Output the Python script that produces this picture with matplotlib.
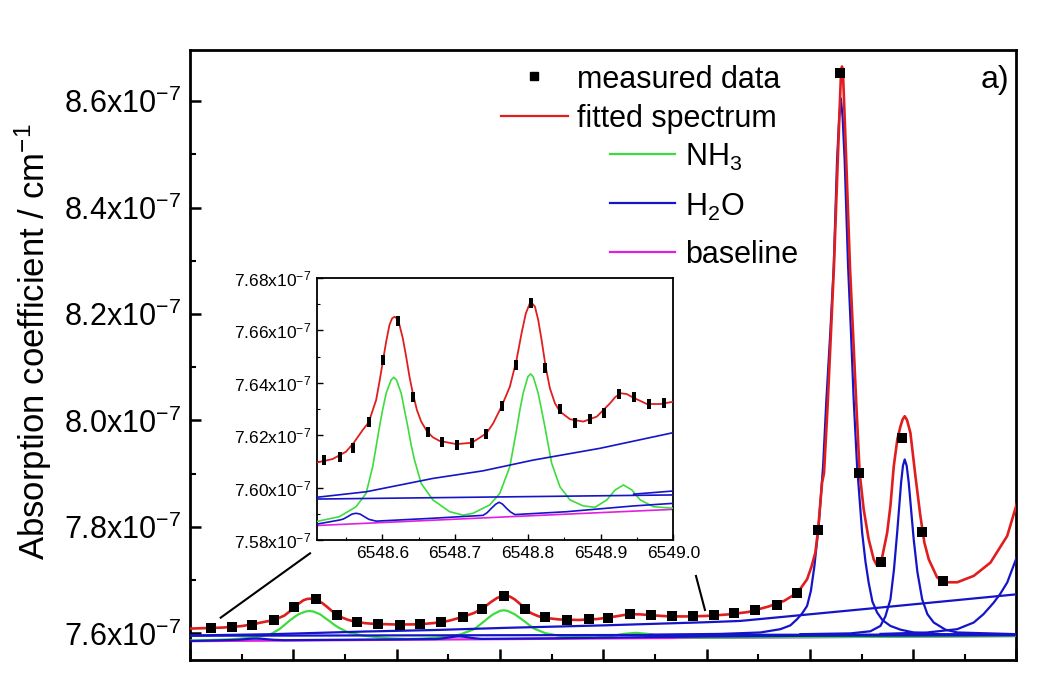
import matplotlib
matplotlib.use('Agg')
import matplotlib.pyplot as plt
from matplotlib.lines import Line2D
from matplotlib.ticker import MultipleLocator, FixedLocator, FuncFormatter

plt.rcParams['font.family'] = ['Liberation Sans', 'DejaVu Sans']
plt.rcParams['mathtext.fontset'] = 'custom'
plt.rcParams['mathtext.rm'] = 'Liberation Sans'
plt.rcParams['mathtext.it'] = 'Liberation Sans:italic'
plt.rcParams['mathtext.bf'] = 'Liberation Sans:bold'

# ---------------- data (absorption in units of 1e-7 cm^-1) ----------------
meas_x = [6548.520, 6548.541, 6548.560, 6548.581, 6548.601, 6548.622, 6548.642, 6548.662,
          6548.682, 6548.703, 6548.723, 6548.743, 6548.764, 6548.783, 6548.804, 6548.824,
          6548.844, 6548.865, 6548.886, 6548.905, 6548.926, 6548.946, 6548.967, 6548.987,
          6549.007, 6549.027, 6549.047, 6549.068, 6549.088, 6549.108, 6549.129, 6549.148,
          6549.169, 6549.189, 6549.209, 6549.229]
meas_y = [7.6105, 7.6118, 7.6150, 7.6249, 7.6487, 7.6637, 7.6345, 7.6213,
          7.6175, 7.6161, 7.6169, 7.6205, 7.6313, 7.6467, 7.6703, 7.6455,
          7.6300, 7.6248, 7.6261, 7.6286, 7.6356, 7.6347, 7.6318, 7.6322,
          7.6341, 7.6392, 7.6435, 7.6529, 7.6754, 7.7936, 8.6528, 7.9011,
          7.7341, 7.9662, 7.7911, 7.6985]

fit_x = [6548.500, 6548.5085, 6548.5315, 6548.5499, 6548.5605, 6548.5729, 6548.5811, 6548.5867,
         6548.5913, 6548.5959, 6548.6009, 6548.6051, 6548.6097, 6548.6133, 6548.6166, 6548.6198,
         6548.6234, 6548.6280, 6548.6326, 6548.6372, 6548.6418, 6548.6474, 6548.6533, 6548.6616,
         6548.6694, 6548.6786, 6548.7016, 6548.7228, 6548.7430, 6548.7522, 6548.7637, 6548.7752,
         6548.7844, 6548.7913, 6548.7972, 6548.8037, 6548.8097, 6548.8142, 6548.8189, 6548.8244,
         6548.8303, 6548.8372, 6548.8441, 6548.8579, 6548.8763, 6548.8948, 6548.9131, 6548.9200,
         6548.9279, 6548.9360, 6548.9453, 6548.9637, 6548.9821, 6549.0004, 6549.0200, 6549.0400,
         6549.0600, 6549.0750, 6549.0882, 6549.0973, 6549.1015, 6549.1053, 6549.1079, 6549.1118,
         6549.1137, 6549.1171, 6549.1203, 6549.1233, 6549.1270, 6549.1291, 6549.1300, 6549.1311,
         6549.1322, 6549.1331, 6549.1352, 6549.1388, 6549.1419, 6549.1451, 6549.1482, 6549.1521,
         6549.1569, 6549.1618, 6549.1651, 6549.1690, 6549.1748, 6549.1780, 6549.1812, 6549.1847,
         6549.1877, 6549.1898, 6549.1918, 6549.1940, 6549.1973, 6549.2022, 6549.2070, 6549.2109,
         6549.2151, 6549.2232, 6549.2312, 6549.2426, 6549.2586, 6549.2748, 6549.2910, 6549.3007]
fit_y = [7.6090, 7.6095, 7.6109, 7.6137, 7.6171, 7.6220, 7.6249, 7.6296,
         7.6334, 7.6404, 7.6487, 7.6557, 7.6621, 7.6646, 7.6652, 7.6646,
         7.6621, 7.6570, 7.6500, 7.6423, 7.6360, 7.6296, 7.6252, 7.6213,
         7.6192, 7.6178, 7.6166, 7.6171, 7.6207, 7.6245, 7.6309, 7.6385,
         7.6487, 7.6589, 7.6665, 7.6710, 7.6691, 7.6640, 7.6563, 7.6462,
         7.6379, 7.6322, 7.6290, 7.6261, 7.6252, 7.6271, 7.6322, 7.6345,
         7.6360, 7.6357, 7.6343, 7.6319, 7.6319, 7.6328, 7.6355, 7.6400,
         7.6505, 7.6610, 7.6767, 7.7017, 7.7250, 7.7517, 7.7940, 7.8831,
         7.9011, 8.0250, 8.1600, 8.2890, 8.4880, 8.6000, 8.6450, 8.6650,
         8.6450, 8.6000, 8.4880, 8.2890, 8.1600, 8.0250, 7.9011, 7.8330,
         7.7770, 7.7390, 7.7270, 7.7340, 7.7890, 7.8400, 7.9140, 7.9650,
         7.9890, 8.0020, 8.0080, 8.0010, 7.9770, 7.8950, 7.8200, 7.7700,
         7.7390, 7.7050, 7.6960, 7.6960, 7.7080, 7.7330, 7.7830, 7.8460]

nh3_x = [6548.500, 6548.5085, 6548.5407, 6548.5637, 6548.5775, 6548.5866, 6548.5913, 6548.5959,
         6548.6005, 6548.6051, 6548.6120, 6548.6156, 6548.6193, 6548.6258, 6548.6303, 6548.6349,
         6548.6395, 6548.6441, 6548.6533, 6548.6694, 6548.6924, 6548.7108, 6548.7246, 6548.7476,
         6548.7614, 6548.7752, 6548.7798, 6548.7844, 6548.7890, 6548.7935, 6548.8000, 6548.8037,
         6548.8074, 6548.8142, 6548.8189, 6548.8234, 6548.8280, 6548.8327, 6548.8441, 6548.8579,
         6548.8763, 6548.8924, 6548.9086, 6548.9200, 6548.9315, 6548.9430, 6548.9545, 6548.9728,
         6549.0004, 6549.1500, 6549.3000]
nh3_y = [7.5866, 7.5870, 7.5889, 7.5927, 7.5978, 7.6080, 7.6156, 7.6232,
         7.6300, 7.6360, 7.6411, 7.6421, 7.6411, 7.6360, 7.6296, 7.6232,
         7.6163, 7.6105, 7.6016, 7.5953, 7.5908, 7.5895, 7.5902, 7.5934,
         7.5978, 7.6080, 7.6150, 7.6220, 7.6296, 7.6360, 7.6423, 7.6434,
         7.6423, 7.6360, 7.6296, 7.6232, 7.6163, 7.6093, 7.6003, 7.5953,
         7.5930, 7.5925, 7.5953, 7.5991, 7.6010, 7.5991, 7.5953, 7.5927,
         7.5921, 7.5935, 7.5950]

h2o_low_x = [6548.500, 6548.5085, 6548.5407, 6548.5462, 6548.5521, 6548.5582, 6548.5637, 6548.5692,
             6548.5752, 6548.5811, 6548.5913, 6548.6694, 6548.7383, 6548.7439, 6548.7499, 6548.7559,
             6548.7605, 6548.7651, 6548.7706, 6548.7761, 6548.7821, 6548.8534, 6548.9453, 6549.0004,
             6549.1000, 6549.3000]
h2o_low_y = [7.5858, 7.5860, 7.5876, 7.5880, 7.5889, 7.5899, 7.5902, 7.5899,
             7.5889, 7.5879, 7.5872, 7.5883, 7.5894, 7.5904, 7.5921, 7.5937,
             7.5944, 7.5937, 7.5921, 7.5907, 7.5897, 7.5908, 7.5930, 7.5940,
             7.5955, 7.5965]

h2o_flat_x = [6548.50, 6549.00, 6549.30]
h2o_flat_y = [7.5956, 7.5972, 7.5980]

h2o_slope_x = [6548.500, 6548.5775, 6548.6694, 6548.7383, 6548.8073, 6548.8993, 6549.0004,
               6549.0327, 6549.1600, 6549.3007]
h2o_slope_y = [7.5960, 7.5984, 7.6035, 7.6064, 7.6105, 7.6150, 7.6210,
               7.6234, 7.6470, 7.6735]

h2o_p1_x = [6548.9455, 6549.0133, 6549.0521, 6549.0714, 6549.0811, 6549.0876, 6549.0927, 6549.0973,
            6549.1010, 6549.1044, 6549.1085, 6549.1128, 6549.1160, 6549.1199, 6549.1231, 6549.1263,
            6549.1284, 6549.1300, 6549.1317, 6549.1337, 6549.1370, 6549.1397, 6549.1424, 6549.1457,
            6549.1506, 6549.1538, 6549.1569, 6549.1605, 6549.1651, 6549.1702, 6549.1780, 6549.1877,
            6549.2005, 6549.2264, 6549.3007]
h2o_p1_y = [7.5975, 7.5990, 7.6017, 7.6079, 7.6150, 7.6266, 7.6380, 7.6516,
            7.6800, 7.7266, 7.8016, 7.9142, 8.0393, 8.1700, 8.2890, 8.4880,
            8.5700, 8.6050, 8.5700, 8.4880, 8.2890, 8.1700, 8.0393, 7.9142,
            7.7893, 7.7350, 7.6955, 7.6600, 7.6392, 7.6250, 7.6140, 7.6070,
            7.6017, 7.5985, 7.5978]

h2o_p2_x = [6549.0908, 6549.1392, 6549.1586, 6549.1683, 6549.1731, 6549.1780, 6549.1814, 6549.1845,
            6549.1883, 6549.1901, 6549.1918, 6549.1937, 6549.1957, 6549.2005, 6549.2041, 6549.2087,
            6549.2138, 6549.2199, 6549.2312, 6549.2426, 6549.3007]
h2o_p2_y = [7.5985, 7.6000, 7.6040, 7.6140, 7.6320, 7.6641, 7.7200, 7.7893,
            7.8831, 7.9150, 7.9268, 7.9150, 7.8831, 7.7767, 7.7150, 7.6641,
            7.6360, 7.6204, 7.6070, 7.6017, 7.5985]

h2o_edge_x = [6549.1683, 6549.2135, 6549.2426, 6549.2586, 6549.2680, 6549.2780, 6549.2845,
              6549.2910, 6549.3007]
h2o_edge_y = [7.5990, 7.6017, 7.6079, 7.6204, 7.6360, 7.6579, 7.6750,
              7.6955, 7.7454]

base_x = [6548.50, 6548.76, 6549.00, 6549.30]
base_y = [7.5854, 7.5887, 7.5917, 7.5950]

main_yticks = [7.6, 7.8, 8.0, 8.2, 8.4, 8.6]
inset_xticks = [6548.6, 6548.7, 6548.8, 6548.9, 6549.0]
inset_yticks = [7.58, 7.60, 7.62, 7.64, 7.66, 7.68]
legend_labels = ['measured data', 'fitted spectrum', 'NH$_3$', 'H$_2$O', 'baseline']
ylabel_text = 'Absorption coefficient / cm$^{-1}$'
panel_label = 'a)'

RED = '#e01e1e'
GREEN = '#3ddc3d'
BLUE = '#1414c8'
MAG = '#e020e0'

fig = plt.figure(figsize=(10.45, 6.81), dpi=100)
ax = fig.add_axes([0.18182, 0.03084, 0.7909, 0.8957])
axin = fig.add_axes([0.30335, 0.20705, 0.34096, 0.38473])

blue_sets = [(h2o_low_x, h2o_low_y), (h2o_flat_x, h2o_flat_y), (h2o_slope_x, h2o_slope_y),
             (h2o_p1_x, h2o_p1_y), (h2o_p2_x, h2o_p2_y), (h2o_edge_x, h2o_edge_y)]


def draw(a, lw, lw_red, marker, ms):
    a.plot(base_x, base_y, color=MAG, lw=lw, zorder=2, solid_joinstyle='round')
    a.plot(nh3_x, nh3_y, color=GREEN, lw=lw, zorder=3, solid_joinstyle='round')
    for bx, by in blue_sets:
        a.plot(bx, by, color=BLUE, lw=lw, zorder=4, solid_joinstyle='round')
    a.plot(fit_x, fit_y, color=RED, lw=lw_red, zorder=5, solid_joinstyle='round')
    a.plot(meas_x, meas_y, ls='none', marker=marker, ms=ms, color='black',
           markeredgewidth=0, zorder=6)


draw(ax, 1.6, 1.9, 's', 7.5)
rect_marker = [(-0.5, -1.0), (0.5, -1.0), (0.5, 1.0), (-0.5, 1.0), (-0.5, -1.0)]
draw(axin, 1.2, 1.3, rect_marker, 6.5)

# ---- main axes formatting ----
ax.set_xlim(6548.5, 6549.3)
ax.set_ylim(7.550, 8.696)
ax.xaxis.set_major_locator(MultipleLocator(0.1))
ax.xaxis.set_minor_locator(MultipleLocator(0.05))
ax.yaxis.set_major_locator(FixedLocator(main_yticks))
ax.yaxis.set_minor_locator(MultipleLocator(0.1))
ax.yaxis.set_major_formatter(FuncFormatter(lambda v, p: f'{v:.1f}x10$^{{-7}}$'))
ax.tick_params(which='both', direction='in', top=False, right=False, labelbottom=False)
ax.tick_params(which='major', length=8, width=1.8, labelsize=22, pad=6)
ax.tick_params(which='minor', length=4.5, width=1.5)
for s in ax.spines.values():
    s.set_linewidth(2.0)

# ---- inset formatting ----
axin.set_xlim(6548.51, 6549.0)
axin.set_ylim(7.58, 7.68)
axin.xaxis.set_major_locator(FixedLocator(inset_xticks))
axin.xaxis.set_minor_locator(MultipleLocator(0.05))
axin.yaxis.set_major_locator(FixedLocator(inset_yticks))
axin.yaxis.set_minor_locator(MultipleLocator(0.01))
axin.xaxis.set_major_formatter(FuncFormatter(lambda v, p: f'{v:.1f}'))
axin.yaxis.set_major_formatter(FuncFormatter(lambda v, p: f'{v:.2f}x10$^{{-7}}$'))
axin.tick_params(which='both', direction='in', top=False, right=False)
axin.tick_params(which='major', length=4, width=1.0, labelsize=12.5, pad=4)
axin.tick_params(which='minor', length=2.5, width=0.8)
for s in axin.spines.values():
    s.set_linewidth(1.3)

# ---- legend drawn manually ----
ax.plot([0.4157], [0.9572], ls='none', marker='s', ms=5.5, color='black',
        transform=ax.transAxes, clip_on=False)
ax.plot([0.3757, 0.4578], [0.8915, 0.8915], color=RED, lw=1.6, transform=ax.transAxes)
ax.plot([0.5084, 0.5864], [0.8298, 0.8298], color=GREEN, lw=1.6, transform=ax.transAxes)
ax.plot([0.5084, 0.5864], [0.7487, 0.7487], color=BLUE, lw=1.6, transform=ax.transAxes)
ax.plot([0.5084, 0.5864], [0.6687, 0.6687], color=MAG, lw=1.6, transform=ax.transAxes)
leg_pos = [(0.4682, 0.9384), (0.4682, 0.8731), (0.5989, 0.8098), (0.5989, 0.7287), (0.5989, 0.6505)]
for (tx, ty), lab in zip(leg_pos, legend_labels):
    ax.text(tx, ty, lab, transform=ax.transAxes, fontsize=22, ha='left', va='baseline')
ax.text(0.957, 0.9372, panel_label, transform=ax.transAxes, fontsize=23, ha='left', va='baseline')

# ---- y label ----
fig.text(33 / 1045, 1 - 342 / 681, ylabel_text, rotation=90, ha='center', va='center', fontsize=25)

# ---- connector lines from inset to main data ----
fig.add_artist(Line2D([0.2112, 0.2967], [0.0930, 0.1875], color='black', lw=1.5,
                      transform=fig.transFigure))
fig.add_artist(Line2D([0.6660, 0.6746], [0.1542, 0.1043], color='black', lw=1.5,
                      transform=fig.transFigure))

fig.savefig('out.png', dpi=100)
